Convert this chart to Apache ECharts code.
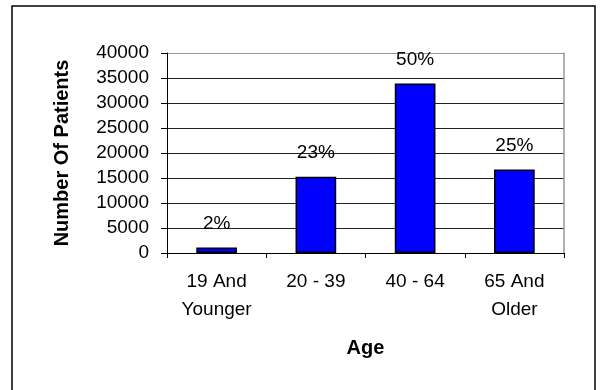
<!DOCTYPE html>
<html>
<head>
<meta charset="utf-8">
<script src="https://cdn.jsdelivr.net/npm/echarts@6/dist/echarts.min.js"></script>
<style>
  html, body { margin: 0; padding: 0; background: #fff; }
  #chart { width: 600px; height: 390px; }
</style>
</head>
<body>
<div id="chart"></div>
<script>
// 年龄段患者人数
const ageGroups = ['19 And\nYounger', '20 - 39', '40 - 64', '65 And\nOlder'];
const patients = [1100, 15250, 33900, 16700];
const shareLabels = ['2%', '23%', '50%', '25%'];
const yTicks = [0, 5000, 10000, 15000, 20000, 25000, 30000, 35000, 40000];

let chartDom = document.getElementById('chart');
let myChart = echarts.init(chartDom);
let option;

const FONT = '"Liberation Sans", Arial, sans-serif';

option = {
    animation: false,
    backgroundColor: '#fff',
    graphic: [{
        type: 'rect',
        shape: {x: 12, y: 6, width: 583, height: 420},
        style: {fill: 'none', stroke: '#000', lineWidth: 1.5},
        silent: true
    }],
    grid: {
        left: 167,
        right: 36,
        top: 53,
        bottom: 137
    },
    xAxis: {
        type: 'category',
        data: ageGroups,
        name: 'Age',
        nameLocation: 'middle',
        nameGap: 85,
        nameTextStyle: {fontFamily: FONT, fontSize: 20, fontWeight: 'bold', color: '#000'},
        axisLine: {lineStyle: {color: '#000', width: 1}},
        axisTick: {show: true, alignWithLabel: false, length: 5, lineStyle: {color: '#000'}},
        axisLabel: {
            fontFamily: FONT,
            fontSize: 19,
            lineHeight: 28,
            color: '#000',
            margin: 15,
            interval: 0
        }
    },
    yAxis: [{
        type: 'value',
        min: yTicks[0],
        max: yTicks[yTicks.length - 1],
        interval: 5000,
        name: 'Number Of Patients',
        nameLocation: 'middle',
        nameRotate: 90,
        nameGap: 95,
        nameTextStyle: {fontFamily: FONT, fontSize: 20, fontWeight: 'bold', color: '#000'},
        axisLine: {show: true, lineStyle: {color: '#000', width: 1}},
        axisTick: {show: true, inside: false, length: 6, lineStyle: {color: '#000'}},
        axisLabel: {
            fontFamily: FONT,
            fontSize: 19,
            color: '#000',
            margin: 18,
            formatter: function (v) {
                return String(v);
            }
        },
        splitLine: {
            show: true,
            lineStyle: {
                color: ['#222', '#222', '#222', '#222', '#222', '#222', '#222', '#222', '#999'],
                width: 1
            }
        }
    }, {
        type: 'value',
        position: 'right',
        min: yTicks[0],
        max: yTicks[yTicks.length - 1],
        interval: 5000,
        axisLine: {show: true, lineStyle: {color: '#999', width: 1.5}},
        axisTick: {show: false},
        axisLabel: {show: false},
        splitLine: {show: false}
    }],
    series: [{
        name: 'Patients',
        type: 'bar',
        data: patients,
        barWidth: '41%',
        itemStyle: {color: '#0000ff', borderColor: '#000', borderWidth: 1.5},
        label: {
            show: true,
            position: 'top',
            distance: 14,
            fontFamily: FONT,
            fontSize: 19,
            color: '#000',
            formatter: function (p) {
                return shareLabels[p.dataIndex];
            }
        }
    }]
};

myChart.setOption(option);
window.addEventListener('resize', () => {
    myChart.resize();
});
</script>
</body>
</html>
